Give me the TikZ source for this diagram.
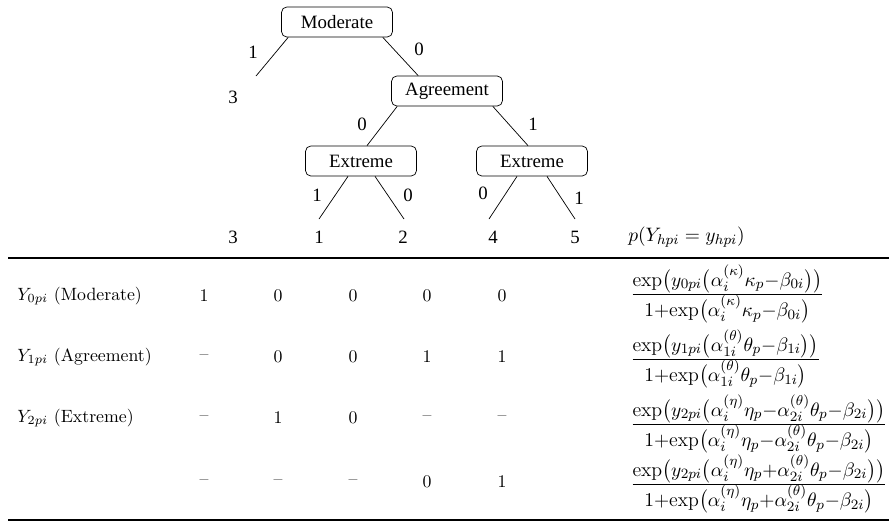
\documentclass[tikz,border=0pt]{standalone}
\usepackage{amsmath}
\usepackage{fontspec}
\newfontfamily\treefont{Liberation Serif}
\usetikzlibrary{calc}

\newcommand{\tfr}[2]{\frac{\textstyle #1}{\textstyle #2}}
\newcommand{\ex}{\mathrm{exp}}

\tikzset{
  catbox/.style={draw, rounded corners=3pt, font=\treefont\fontsize{10.6}{12}\selectfont, minimum width=62.4pt, minimum height=16.9pt, inner sep=0pt},
  treelab/.style={font=\treefont\fontsize{10.6}{12}\selectfont, inner sep=0pt},
  cell/.style={inner sep=0pt},
  frac/.style={anchor=west, inner sep=0pt, font=\fontsize{11.2}{13}\selectfont}
}

\begin{document}
\begin{tikzpicture}[x=0.5625pt,y=-0.5625pt]
\useasboundingbox (0,0) rectangle (889,522);

% tree
\node[catbox] (mod) at (337,22) {Moderate};
\node[catbox] (agr) at (447,91) {Agreement};
\node[catbox] (extl) at (361,161) {Extreme};
\node[catbox] (extr) at (532,161) {Extreme};

\coordinate (e3) at (256,76);
\coordinate (e1) at (319,219);
\coordinate (e2) at (404,219);
\coordinate (e4) at (489,219);
\coordinate (e5) at (575,219);

\draw ($(mod.south west)+(7,0)$) -- (e3);
\draw ($(mod.south east)+(-10,0)$) -- ($(agr.north west)+(27,0)$);
\draw ($(agr.south west)+(6,0)$) -- ($(extl.north)+(6,0)$);
\draw ($(agr.south east)+(-10,0)$) -- ($(extr.north)+(-4,0)$);
\draw ($(extl.south)+(-13,0)$) -- (e1);
\draw ($(extl.south)+(14,0)$) -- (e2);
\draw ($(extr.south)+(-15,0)$) -- (e4);
\draw ($(extr.south)+(15,0)$) -- (e5);

\foreach \x/\y/\t [count=\i] in {253/52/1,419/49/0,362/124/0,533/124/1,317/195/1,408/195/0,483/193/0,579/198/1}
    \node[treelab] (b\i) at (\x,\y) {\t};

\node[treelab] (top3) at (233,97) {3};
\foreach \x/\t in {233/3,319/1,403/2,493/4,575/5}
    \node[treelab] (out\t) at (\x,237) {\t};

\node[frac] (phead) at (628,237) {$p(Y_{hpi}=y_{hpi})$};

% table
\draw [line width=0.6pt] (8,258) -- (889,258);
\draw [line width=0.6pt] (8,520) -- (889,520);

\node[anchor=west, cell] (r0) at (17,296) {$Y_{0pi}$ (Moderate)};
\node[anchor=west, cell] (r1) at (17,357) {$Y_{1pi}$ (Agreement)};
\node[anchor=west, cell] (r2) at (17,418) {$Y_{2pi}$ (Extreme)};

\foreach \x/\v [count=\i] in {204/1,278/0,353/0,427/0,502/0}
    \node[cell] (a\i) at (\x,296) {\v};
\foreach \x/\v [count=\i] in {204/--,278/0,353/0,427/1,502/1}
    \node[cell] (b\i) at (\x,357) {\v};
\foreach \x/\v [count=\i] in {204/--,278/1,353/0,427/--,502/--}
    \node[cell] (c\i) at (\x,418) {\v};
\foreach \x/\v [count=\i] in {204/--,278/--,353/--,427/0,502/1}
    \node[cell] (d\i) at (\x,482) {\v};

\node[frac] (f0) at (630,294) {$\tfr{\ex\bigl(y_{0pi}\bigl(\alpha_i^{(\kappa)}\kappa_p{-}\beta_{0i}\bigr)\bigr)}{1{+}\ex\bigl(\alpha_i^{(\kappa)}\kappa_p{-}\beta_{0i}\bigr)}$};
\node[frac] (f1) at (630,359) {$\tfr{\ex\bigl(y_{1pi}\bigl(\alpha_{1i}^{(\theta)}\theta_p{-}\beta_{1i}\bigr)\bigr)}{1{+}\ex\bigl(\alpha_{1i}^{(\theta)}\theta_p{-}\beta_{1i}\bigr)}$};
\node[frac] (f2) at (630,424) {$\tfr{\ex\bigl(y_{2pi}\bigl(\alpha_i^{(\eta)}\eta_p{-}\alpha_{2i}^{(\theta)}\theta_p{-}\beta_{2i}\bigr)\bigr)}{1{+}\ex\bigl(\alpha_i^{(\eta)}\eta_p{-}\alpha_{2i}^{(\theta)}\theta_p{-}\beta_{2i}\bigr)}$};
\node[frac] (f3) at (630,484) {$\tfr{\ex\bigl(y_{2pi}\bigl(\alpha_i^{(\eta)}\eta_p{+}\alpha_{2i}^{(\theta)}\theta_p{-}\beta_{2i}\bigr)\bigr)}{1{+}\ex\bigl(\alpha_i^{(\eta)}\eta_p{+}\alpha_{2i}^{(\theta)}\theta_p{-}\beta_{2i}\bigr)}$};

\end{tikzpicture}
\end{document}
